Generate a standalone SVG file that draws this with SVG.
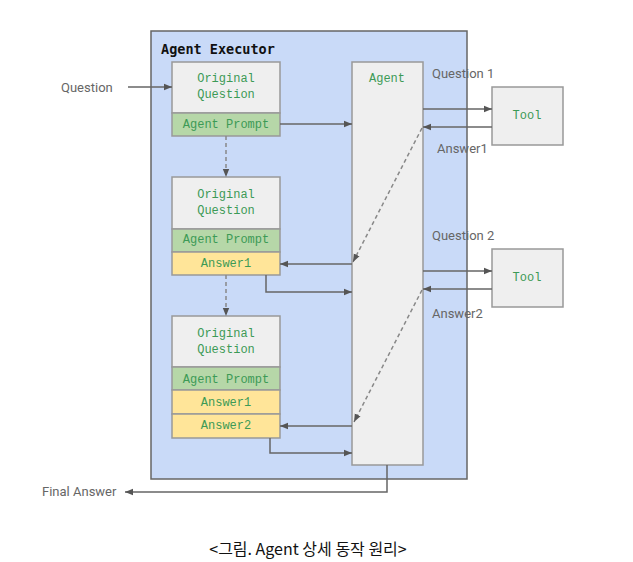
<svg xmlns="http://www.w3.org/2000/svg" width="633" height="562" viewBox="0 0 633 562">
<style>
.box{fill:#efefef;stroke:#999;stroke-width:1.5}
.prompt{fill:#b6d7a8;stroke:#999;stroke-width:1.5}
.ans{fill:#ffe599;stroke:#999;stroke-width:1.5}
.mono{font-family:"Liberation Mono","DejaVu Sans Mono",monospace;font-size:12px;fill:#3c9a56;text-anchor:middle}
.lbl{font-family:Roboto,"Liberation Sans",sans-serif;font-size:13px;fill:#666}
.ln{fill:none;stroke:#666;stroke-width:1.5}
.dash{fill:none;stroke:#888;stroke-width:1.5;stroke-dasharray:4 3}
</style>
<defs>
<marker id="ah" viewBox="0 0 10 10" refX="10" refY="5" markerWidth="8" markerHeight="8" markerUnits="userSpaceOnUse" orient="auto">
<path d="M0,1 L10,5 L0,9 Z" fill="#555"/>
</marker>
</defs>
<rect width="633" height="562" fill="#fff"/>
<g id="executor">
<rect x="151" y="31" width="316" height="448" fill="#c9daf8" stroke="#666" stroke-width="1.5"/>
<text x="161" y="54" font-family="'DejaVu Sans Mono','Liberation Mono',monospace" font-size="13.5px" font-weight="bold" fill="#111">Agent Executor</text>
</g>
<g id="context1">
<rect class="box" x="172" y="62" width="108" height="51"/>
<rect class="prompt" x="172" y="113" width="108" height="23"/>
<text class="mono" x="226" y="82">Original</text>
<text class="mono" x="226" y="98">Question</text>
<text class="mono" x="226" y="128">Agent Prompt</text>
</g>
<g id="context2">
<rect class="box" x="172" y="177" width="108" height="52"/>
<rect class="prompt" x="172" y="229" width="108" height="23"/>
<rect class="ans" x="172" y="252" width="108" height="23"/>
<text class="mono" x="226" y="198">Original</text>
<text class="mono" x="226" y="214">Question</text>
<text class="mono" x="226" y="243">Agent Prompt</text>
<text class="mono" x="226" y="267">Answer1</text>
</g>
<g id="context3">
<rect class="box" x="172" y="316" width="108" height="51"/>
<rect class="prompt" x="172" y="367" width="108" height="23"/>
<rect class="ans" x="172" y="390" width="108" height="24"/>
<rect class="ans" x="172" y="414" width="108" height="24"/>
<text class="mono" x="226" y="337">Original</text>
<text class="mono" x="226" y="353">Question</text>
<text class="mono" x="226" y="383">Agent Prompt</text>
<text class="mono" x="226" y="406">Answer1</text>
<text class="mono" x="226" y="429">Answer2</text>
</g>
<g id="agent">
<rect class="box" x="352" y="62" width="71" height="403"/>
<text class="mono" x="387" y="82">Agent</text>
</g>
<g id="tool1">
<rect class="box" x="492" y="87" width="71" height="58"/>
<text class="mono" x="527" y="119">Tool</text>
</g>
<g id="tool2">
<rect class="box" x="492" y="249" width="71" height="58"/>
<text class="mono" x="527" y="281">Tool</text>
</g>
<g id="labels">
<text class="lbl" x="61" y="92">Question</text>
<text class="lbl" x="432" y="78">Question 1</text>
<text class="lbl" x="437" y="153">Answer1</text>
<text class="lbl" x="432" y="240">Question 2</text>
<text class="lbl" x="432" y="318">Answer2</text>
<text class="lbl" x="42" y="496">Final Answer</text>
<text x="308" y="555" text-anchor="middle" font-family="'Noto Sans CJK KR','Noto Sans',sans-serif" font-size="16px" fill="#111">&lt;그림. Agent 상세 동작 원리&gt;</text>
</g>
<g id="connectors">
<path class="ln" d="M128,87 H172" marker-end="url(#ah)"/>
<path class="ln" d="M280,124 H352" marker-end="url(#ah)"/>
<path class="dash" d="M226,136 V177" marker-end="url(#ah)"/>
<path class="dash" d="M226,275 V316" marker-end="url(#ah)"/>
<path class="ln" d="M423,109 H492" marker-end="url(#ah)"/>
<path class="ln" d="M492,127 H423" marker-end="url(#ah)"/>
<path class="dash" d="M422,128 L353,262" marker-end="url(#ah)"/>
<path class="ln" d="M352,264 H280" marker-end="url(#ah)"/>
<path class="ln" d="M266,275 V292 H352" marker-end="url(#ah)"/>
<path class="ln" d="M423,271 H492" marker-end="url(#ah)"/>
<path class="ln" d="M492,289 H423" marker-end="url(#ah)"/>
<path class="dash" d="M422,290 L354,422" marker-end="url(#ah)"/>
<path class="ln" d="M352,426 H280" marker-end="url(#ah)"/>
<path class="ln" d="M270,438 V453 H352" marker-end="url(#ah)"/>
<path class="ln" d="M387,465 V492 H125" marker-end="url(#ah)"/>
</g>
</svg>
